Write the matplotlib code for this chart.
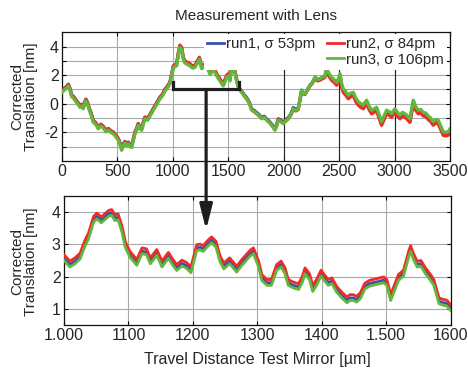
import numpy as np
import matplotlib
matplotlib.use("Agg")
import matplotlib.pyplot as plt
from matplotlib.patches import ConnectionPatch
from matplotlib.lines import Line2D
import matplotlib.transforms as mtransforms

plt.rcParams['font.family'] = ['Liberation Sans', 'DejaVu Sans']

# ---- datos: grafico superior (recorrido completo) ----
top_x = [0, 20, 42, 57, 72, 87, 102, 117, 135, 150,
         162, 177, 192, 205, 216, 231, 246, 264, 282, 305,
         327, 350, 373, 395, 418, 440, 463, 485, 508, 523,
         538, 553, 568, 583, 598, 613, 629, 643, 658, 673,
         688, 703, 719, 734, 749, 772, 794, 817, 839, 862,
         884, 906, 929, 951, 974, 989, 1004, 1019, 1034, 1049,
         1064, 1079, 1094, 1109, 1132, 1155, 1178, 1200, 1220, 1239,
         1260, 1283, 1305, 1320, 1335, 1358, 1380, 1403, 1425, 1440,
         1455, 1470, 1486, 1501, 1516, 1526, 1536, 1548, 1560, 1575,
         1590, 1605, 1621, 1644, 1666, 1689, 1711, 1734, 1756, 1779,
         1801, 1824, 1846, 1869, 1891, 1906, 1921, 1936, 1951, 1974,
         1996, 2019, 2041, 2064, 2086, 2109, 2131, 2147, 2162, 2177,
         2192, 2215, 2237, 2260, 2282, 2305, 2327, 2350, 2372, 2387,
         2410, 2432, 2455, 2478, 2493, 2508, 2523, 2537, 2560, 2582,
         2605, 2628, 2650, 2673, 2696, 2718, 2733, 2748, 2770, 2793,
         2816, 2838, 2861, 2883, 2906, 2928, 2951, 2973, 2988, 3003,
         3026, 3049, 3071, 3094, 3116, 3139, 3154, 3169, 3191, 3214,
         3237, 3259, 3282, 3304, 3327, 3349, 3372, 3394, 3417, 3439,
         3462, 3484, 3500]

top_run1 = [0.92, 1.07, 1.22, 1.37, 1.07, 0.62, 0.52, 0.37, 0.17, 0.02,
            -0.13, -0.03, -0.23, 0.12, 0.32, 0.07, -0.33, -0.68, -1.18, -1.33,
            -1.63, -1.43, -1.58, -1.83, -1.73, -1.88, -1.98, -2.18, -2.43, -2.73,
            -3.13, -2.83, -2.63, -2.83, -2.68, -2.88, -2.93, -2.48, -1.98, -1.73,
            -1.38, -1.63, -1.73, -1.28, -0.93, -1.03, -0.73, -0.43, -0.13, 0.17,
            0.47, 0.67, 1.02, 1.22, 1.52, 2.05, 2.60, 2.70, 2.75, 3.50,
            4.05, 3.90, 3.20, 2.95, 2.85, 2.75, 2.60, 2.65, 2.95, 3.20,
            2.55, 2.70, 2.75, 2.45, 2.15, 2.40, 2.30, 1.95, 1.70, 1.50,
            1.35, 1.65, 1.95, 2.05, 1.70, 2.40, 3.00, 2.70, 2.25, 1.70,
            1.25, 1.03, 0.88, 0.63, 0.43, 0.13, -0.37, -0.47, -0.62, -0.77,
            -0.97, -0.87, -1.07, -1.22, -1.42, -1.57, -1.77, -1.47, -1.05, -1.15,
            -1.30, -1.10, -0.97, -0.72, -0.27, -0.37, -0.30, 0.30, 0.95, 0.75,
            0.70, 1.00, 1.30, 1.50, 1.85, 1.70, 1.75, 1.85, 1.95, 2.38,
            2.00, 1.75, 1.60, 1.38, 1.63, 1.98, 1.28, 0.93, 0.73, 0.48,
            0.63, 0.68, 0.28, 0.03, -0.12, -0.22, -0.02, 0.13, -0.27, -0.57,
            -0.47, -0.37, -0.87, -1.37, -0.97, -0.57, -0.67, -0.82, -0.62, -0.47,
            -0.72, -0.92, -0.72, -0.82, -0.97, -1.17, -0.52, 0.13, -0.32, -0.57,
            -0.52, -0.72, -0.77, -0.97, -1.12, -1.37, -1.22, -1.27, -1.67, -2.07,
            -2.12, -2.07, -1.87]

top_run2 = [0.90, 1.05, 1.20, 1.35, 1.05, 0.60, 0.50, 0.35, 0.15, 0.00,
            -0.15, -0.05, -0.25, 0.10, 0.30, 0.05, -0.35, -0.70, -1.20, -1.35,
            -1.65, -1.45, -1.60, -1.85, -1.75, -1.90, -2.00, -2.20, -2.45, -2.75,
            -3.15, -2.85, -2.65, -2.85, -2.70, -2.90, -2.95, -2.50, -2.00, -1.75,
            -1.40, -1.65, -1.75, -1.30, -0.95, -1.05, -0.75, -0.45, -0.15, 0.15,
            0.45, 0.65, 1.00, 1.20, 1.50, 2.05, 2.65, 2.75, 2.80, 3.55,
            4.10, 3.95, 3.25, 3.00, 2.90, 2.80, 2.65, 2.70, 3.00, 3.25,
            2.60, 2.75, 2.80, 2.50, 2.20, 2.45, 2.35, 2.00, 1.75, 1.55,
            1.40, 1.70, 2.00, 2.10, 1.75, 2.45, 3.00, 2.70, 2.25, 1.70,
            1.25, 1.00, 0.85, 0.55, 0.35, 0.05, -0.40, -0.55, -0.70, -0.85,
            -1.00, -0.95, -1.10, -1.30, -1.45, -1.65, -1.80, -1.55, -1.10, -1.20,
            -1.35, -1.20, -1.05, -0.80, -0.40, -0.50, -0.40, 0.25, 0.90, 0.70,
            0.65, 0.95, 1.25, 1.45, 1.75, 1.60, 1.65, 1.75, 1.85, 2.30,
            1.90, 1.65, 1.50, 1.30, 1.50, 1.85, 1.15, 0.80, 0.60, 0.35,
            0.50, 0.55, 0.15, -0.10, -0.25, -0.35, -0.15, 0.00, -0.40, -0.70,
            -0.60, -0.50, -1.00, -1.50, -1.10, -0.70, -0.80, -0.95, -0.75, -0.60,
            -0.85, -1.05, -0.85, -0.95, -1.10, -1.30, -0.65, 0.00, -0.45, -0.70,
            -0.65, -0.85, -0.90, -1.10, -1.25, -1.50, -1.35, -1.40, -1.80, -2.20,
            -2.25, -2.20, -2.00]

top_run3 = [0.80, 0.95, 1.10, 1.25, 0.95, 0.50, 0.40, 0.25, 0.05, -0.10,
            -0.25, -0.15, -0.35, 0.00, 0.20, -0.05, -0.45, -0.80, -1.30, -1.45,
            -1.75, -1.55, -1.70, -1.95, -1.85, -2.00, -2.10, -2.30, -2.55, -2.85,
            -3.25, -2.95, -2.75, -2.95, -2.80, -3.00, -3.05, -2.60, -2.10, -1.85,
            -1.50, -1.75, -1.85, -1.40, -1.05, -1.15, -0.85, -0.55, -0.25, 0.05,
            0.35, 0.55, 0.90, 1.10, 1.40, 1.95, 2.50, 2.60, 2.65, 3.40,
            3.95, 3.80, 3.10, 2.85, 2.75, 2.65, 2.50, 2.55, 2.85, 3.10,
            2.45, 2.60, 2.65, 2.35, 2.05, 2.30, 2.20, 1.85, 1.60, 1.40,
            1.25, 1.55, 1.85, 1.95, 1.60, 2.30, 2.90, 2.60, 2.15, 1.60,
            1.15, 0.95, 0.80, 0.55, 0.35, 0.05, -0.45, -0.55, -0.70, -0.85,
            -1.05, -0.95, -1.15, -1.30, -1.50, -1.65, -1.85, -1.55, -1.15, -1.25,
            -1.40, -1.20, -1.05, -0.80, -0.35, -0.45, -0.35, 0.30, 0.95, 0.75,
            0.70, 1.00, 1.30, 1.50, 1.85, 1.70, 1.75, 1.85, 1.95, 2.45,
            2.10, 1.85, 1.70, 1.50, 1.75, 2.10, 1.40, 1.05, 0.85, 0.60,
            0.75, 0.80, 0.40, 0.15, 0.00, -0.10, 0.10, 0.25, -0.15, -0.45,
            -0.35, -0.25, -0.75, -1.25, -0.85, -0.45, -0.55, -0.70, -0.50, -0.35,
            -0.60, -0.80, -0.60, -0.70, -0.85, -1.05, -0.40, 0.25, -0.20, -0.45,
            -0.40, -0.60, -0.65, -0.85, -1.00, -1.25, -1.10, -1.15, -1.55, -1.95,
            -2.00, -1.95, -1.75]

# ---- datos: grafico inferior (zoom 1000-1600) ----
bot_x = [1000, 1009, 1017, 1025, 1033, 1038, 1046, 1051, 1058, 1069,
         1074, 1079, 1084, 1090, 1095, 1102, 1113, 1121, 1128, 1134,
         1144, 1152, 1162, 1169, 1175, 1183, 1190, 1197, 1206, 1211,
         1216, 1223, 1229, 1236, 1242, 1248, 1257, 1263, 1268, 1276,
         1289, 1294, 1302, 1307, 1315, 1322, 1330, 1337, 1343, 1348,
         1356, 1364, 1370, 1374, 1381, 1386, 1392, 1399, 1404, 1410,
         1416, 1423, 1431, 1439, 1444, 1449, 1454, 1460, 1467, 1475,
         1486, 1496, 1501, 1507, 1514, 1519, 1527, 1535, 1538, 1542,
         1548, 1554, 1561, 1569, 1574, 1582, 1589, 1594, 1600]

bot_run1 = [2.58, 2.38, 2.48, 2.63, 3.05, 3.25, 3.77, 3.87, 3.75, 3.95,
            3.98, 3.82, 3.84, 3.46, 2.99, 2.69, 2.43, 2.79, 2.76, 2.48,
            2.74, 2.38, 2.65, 2.43, 2.27, 2.41, 2.34, 2.20, 2.89, 2.91,
            2.86, 3.02, 3.13, 2.99, 2.55, 2.32, 2.48, 2.34, 2.22, 2.43,
            2.72, 2.79, 2.38, 1.96, 1.81, 1.81, 2.27, 2.38, 2.17, 1.81,
            1.73, 1.68, 1.91, 2.17, 1.99, 1.62, 1.81, 2.10, 1.96, 1.81,
            1.86, 1.60, 1.42, 1.27, 1.34, 1.34, 1.29, 1.40, 1.70, 1.79,
            1.84, 1.89, 1.81, 1.34, 1.70, 1.96, 2.10, 2.69, 2.86, 2.63,
            2.38, 2.40, 2.17, 1.96, 1.81, 1.24, 1.19, 1.17, 1.03]

bot_run2 = [2.68, 2.48, 2.58, 2.73, 3.15, 3.35, 3.87, 3.97, 3.85, 4.05,
            4.08, 3.92, 3.94, 3.56, 3.09, 2.79, 2.53, 2.89, 2.86, 2.58,
            2.84, 2.48, 2.75, 2.53, 2.37, 2.51, 2.44, 2.30, 2.99, 3.01,
            2.96, 3.12, 3.23, 3.09, 2.65, 2.42, 2.58, 2.44, 2.32, 2.53,
            2.82, 2.89, 2.48, 2.06, 1.91, 1.91, 2.37, 2.48, 2.27, 1.91,
            1.83, 1.78, 2.01, 2.27, 2.09, 1.72, 1.91, 2.20, 2.06, 1.91,
            1.96, 1.70, 1.52, 1.37, 1.44, 1.44, 1.39, 1.50, 1.80, 1.89,
            1.94, 1.99, 1.91, 1.44, 1.80, 2.06, 2.20, 2.79, 2.96, 2.73,
            2.48, 2.50, 2.27, 2.06, 1.91, 1.34, 1.29, 1.27, 1.13]

bot_run3 = [2.50, 2.30, 2.40, 2.55, 2.97, 3.17, 3.69, 3.79, 3.67, 3.87,
            3.90, 3.74, 3.76, 3.38, 2.91, 2.61, 2.35, 2.71, 2.68, 2.40,
            2.66, 2.30, 2.57, 2.35, 2.19, 2.33, 2.26, 2.12, 2.81, 2.83,
            2.78, 2.94, 3.05, 2.91, 2.47, 2.24, 2.40, 2.26, 2.14, 2.35,
            2.64, 2.71, 2.30, 1.88, 1.73, 1.73, 2.19, 2.30, 2.09, 1.73,
            1.65, 1.60, 1.83, 2.09, 1.91, 1.54, 1.73, 2.02, 1.88, 1.73,
            1.78, 1.52, 1.34, 1.19, 1.26, 1.26, 1.21, 1.32, 1.62, 1.71,
            1.76, 1.81, 1.73, 1.26, 1.62, 1.88, 2.02, 2.61, 2.78, 2.55,
            2.30, 2.32, 2.09, 1.88, 1.73, 1.16, 1.11, 1.09, 0.95]

etiquetas = ["run1, σ 53pm", "run2, σ 84pm", "run3, σ 106pm"]
top_xticks = [0, 500, 1000, 1500, 2000, 2500, 3000, 3500]
top_yticks = [-3, -2, -1, 0, 1, 2, 3, 4]
top_ylabels = ["", "-2", "", "0", "", "2", "", "4"]
bot_xticks = [1000, 1100, 1200, 1300, 1400, 1500, 1600]
bot_xlabels = ["1.000", "1100", "1200", "1300", "1400", "1.500", "1600"]
bot_yticks = [1, 2, 3, 4]

azul, rojo, verde = '#3553a8', '#ee2a2a', '#62b83a'
texto = '#262626'
gris = '#a8a8a8'

fig = plt.figure(figsize=(4.68, 3.73), dpi=100)
ax1 = fig.add_axes([0.1325, 0.5684, 0.829, 0.345])
ax2 = fig.add_axes([0.1368, 0.1287, 0.826, 0.3458])

for ax, x, r1, r2, r3, lw in [(ax1, top_x, top_run1, top_run2, top_run3, 2.4),
                              (ax2, bot_x, bot_run1, bot_run2, bot_run3, 2.0)]:
    ax.plot(x, r1, color=azul, lw=lw, label=etiquetas[0], zorder=3)
    ax.plot(x, r2, color=rojo, lw=lw, label=etiquetas[1], zorder=3)
    ax.plot(x, r3, color=verde, lw=lw, label=etiquetas[2], zorder=3)
    ax.set_axisbelow(True)
    ax.grid(True, color=gris, lw=0.8)
    ax.tick_params(direction='in', length=3, width=0.8, top=True, right=True,
                   labelsize=11.5, labelcolor=texto, pad=2.5)
    for s in ax.spines.values():
        s.set_linewidth(0.9)
        s.set_color('#111111')

# superior
ax1.set_xlim(0, 3500)
ax1.set_ylim(-4, 5)
ax1.set_xticks(top_xticks)
ax1.set_yticks(top_yticks)
ax1.set_yticklabels(top_ylabels)
for xv in [2000, 2500, 3000]:
    ax1.axvline(xv, color='#222222', lw=0.8, zorder=1.5)
ax1.set_title("Measurement with Lens", fontsize=11, color=texto, pad=9)

h1, h2, h3 = ax1.get_legend_handles_labels()[0]
blank = Line2D([], [], color='none')
leg = ax1.legend([h1, blank, h2, h3], [etiquetas[0], "", etiquetas[1], etiquetas[2]],
                 ncol=2, loc='upper right', bbox_to_anchor=(1.0, 1.01),
                 fontsize=10.8, frameon=True, facecolor='white', edgecolor='none',
                 framealpha=1, handlelength=1.1, handletextpad=0.15,
                 columnspacing=0.8, labelspacing=0.1, borderpad=0.2,
                 borderaxespad=0.2)
for t in leg.get_texts():
    t.set_color(texto)
for lh in leg.get_lines():
    lh.set_linewidth(2.0)
leg.set_zorder(5)

# inferior
ax2.set_xlim(1000, 1600)
ax2.set_ylim(0.5, 4.5)
ax2.set_xticks(bot_xticks)
ax2.set_xticklabels(bot_xlabels)
ax2.set_yticks(bot_yticks)
ax2.set_xlabel("Travel Distance Test Mirror [µm]", fontsize=11.5, color=texto, labelpad=6)

fig.text(0.052, 0.741, "Corrected\nTranslation [nm]", rotation=90, ha='center', va='center',
         fontsize=11, color=texto, linespacing=1.0)
fig.text(0.052, 0.298, "Corrected\nTranslation [nm]", rotation=90, ha='center', va='center',
         fontsize=11, color=texto, linespacing=1.0)

# corchete y flecha
oscuro = '#1e1e1e'
ax1.plot([1000, 1000, 1600, 1600], [1.55, 1.0, 1.0, 1.55], color=oscuro, lw=2.3,
         solid_joinstyle='miter', zorder=6, clip_on=False)
mezcla = mtransforms.blended_transform_factory(ax1.transData, ax2.transData)
flecha = ConnectionPatch(xyA=(1300, 1.0), coordsA=ax1.transData,
                         xyB=(1300, 3.45), coordsB=mezcla,
                         arrowstyle='-|>,head_length=1.5,head_width=0.38',
                         mutation_scale=10, lw=2.3, color=oscuro, zorder=6)
fig.add_artist(flecha)

plt.savefig("out.png", dpi=100)
